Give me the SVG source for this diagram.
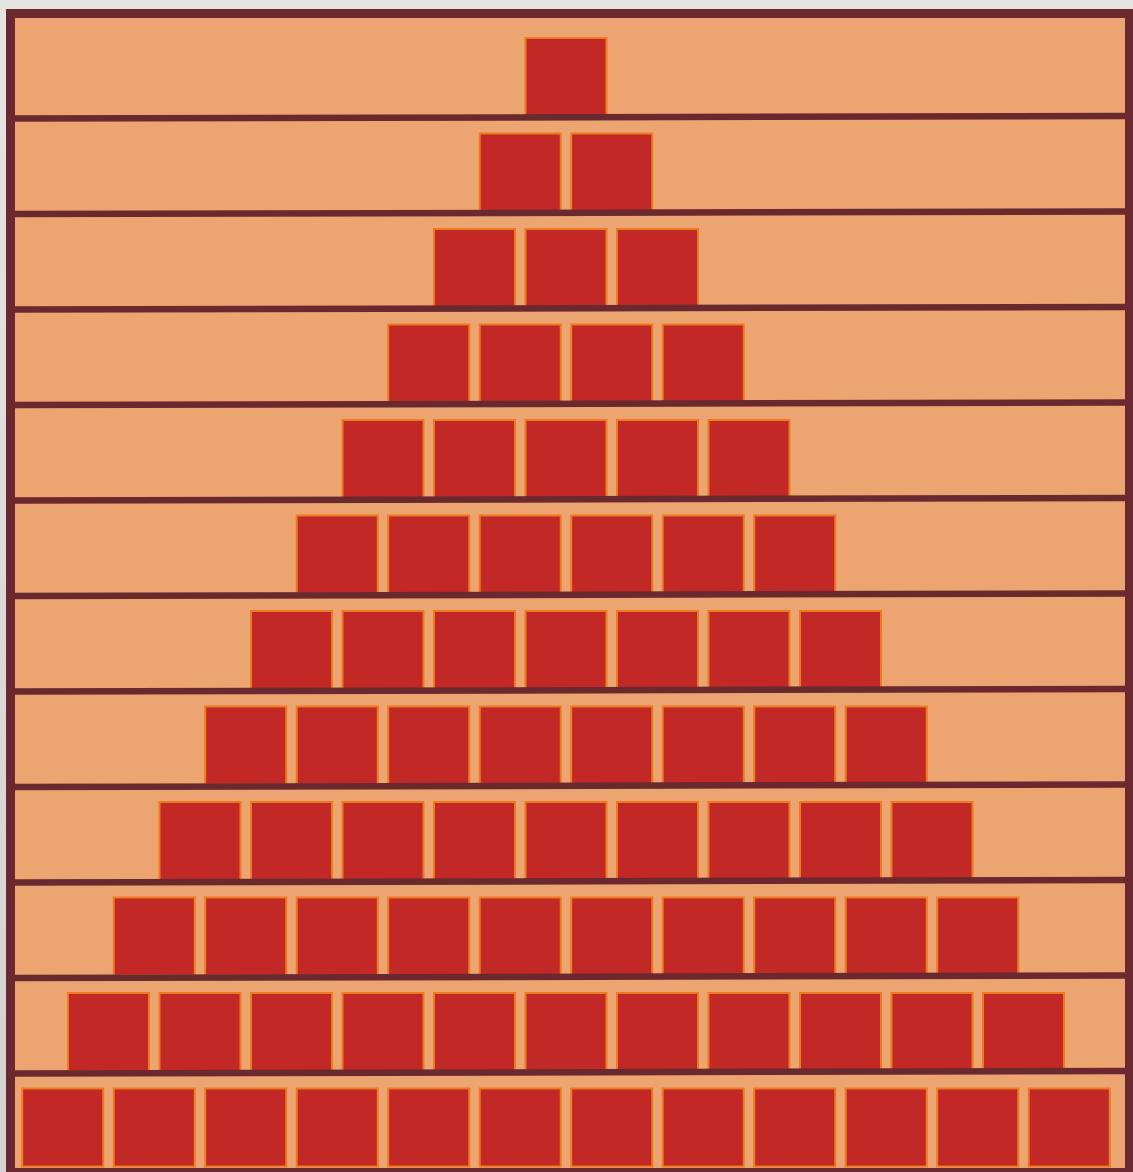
<svg xmlns="http://www.w3.org/2000/svg" width="1133" height="1172" viewBox="0 0 1133 1172">
<style>
.bg{fill:#ECA570}
.sq{fill:#C12826;stroke:#EC7A1F;stroke-width:2}
.ln{stroke:#6A292E;stroke-width:6.5;fill:none}
.bd{stroke:#6A292E;stroke-width:9;fill:none}
</style>
<defs>
<linearGradient id="g" x1="0" y1="0" x2="0" y2="1">
<stop offset="0" stop-color="#E6E4E3"/>
<stop offset="1" stop-color="#D4D2D1"/>
</linearGradient>
<rect id="s" class="sq" width="81" height="78"/>
</defs>
<rect x="0" y="0" width="1133" height="1172" fill="url(#g)"/>
<rect class="bg" x="10" y="13" width="1120" height="1160"/>
<g id="row1"><use href="#s" x="525.5" y="38"/></g>
<g id="row2"><use href="#s" x="479.75" y="133.5"/><use href="#s" x="571.25" y="133.5"/></g>
<g id="row3"><use href="#s" x="434" y="229"/><use href="#s" x="525.5" y="229"/><use href="#s" x="617" y="229"/></g>
<g id="row4"><use href="#s" x="388.25" y="324.5"/><use href="#s" x="479.75" y="324.5"/><use href="#s" x="571.25" y="324.5"/><use href="#s" x="662.75" y="324.5"/></g>
<g id="row5"><use href="#s" x="342.5" y="420"/><use href="#s" x="434" y="420"/><use href="#s" x="525.5" y="420"/><use href="#s" x="617" y="420"/><use href="#s" x="708.5" y="420"/></g>
<g id="row6"><use href="#s" x="296.75" y="515.5"/><use href="#s" x="388.25" y="515.5"/><use href="#s" x="479.75" y="515.5"/><use href="#s" x="571.25" y="515.5"/><use href="#s" x="662.75" y="515.5"/><use href="#s" x="754.25" y="515.5"/></g>
<g id="row7"><use href="#s" x="251" y="611"/><use href="#s" x="342.5" y="611"/><use href="#s" x="434" y="611"/><use href="#s" x="525.5" y="611"/><use href="#s" x="617" y="611"/><use href="#s" x="708.5" y="611"/><use href="#s" x="800" y="611"/></g>
<g id="row8"><use href="#s" x="205.25" y="706.5"/><use href="#s" x="296.75" y="706.5"/><use href="#s" x="388.25" y="706.5"/><use href="#s" x="479.75" y="706.5"/><use href="#s" x="571.25" y="706.5"/><use href="#s" x="662.75" y="706.5"/><use href="#s" x="754.25" y="706.5"/><use href="#s" x="845.75" y="706.5"/></g>
<g id="row9"><use href="#s" x="159.5" y="802"/><use href="#s" x="251" y="802"/><use href="#s" x="342.5" y="802"/><use href="#s" x="434" y="802"/><use href="#s" x="525.5" y="802"/><use href="#s" x="617" y="802"/><use href="#s" x="708.5" y="802"/><use href="#s" x="800" y="802"/><use href="#s" x="891.5" y="802"/></g>
<g id="row10"><use href="#s" x="113.75" y="897.5"/><use href="#s" x="205.25" y="897.5"/><use href="#s" x="296.75" y="897.5"/><use href="#s" x="388.25" y="897.5"/><use href="#s" x="479.75" y="897.5"/><use href="#s" x="571.25" y="897.5"/><use href="#s" x="662.75" y="897.5"/><use href="#s" x="754.25" y="897.5"/><use href="#s" x="845.75" y="897.5"/><use href="#s" x="937.25" y="897.5"/></g>
<g id="row11"><use href="#s" x="68" y="993"/><use href="#s" x="159.5" y="993"/><use href="#s" x="251" y="993"/><use href="#s" x="342.5" y="993"/><use href="#s" x="434" y="993"/><use href="#s" x="525.5" y="993"/><use href="#s" x="617" y="993"/><use href="#s" x="708.5" y="993"/><use href="#s" x="800" y="993"/><use href="#s" x="891.5" y="993"/><use href="#s" x="983" y="993"/></g>
<g id="row12"><use href="#s" x="22.25" y="1088.5"/><use href="#s" x="113.75" y="1088.5"/><use href="#s" x="205.25" y="1088.5"/><use href="#s" x="296.75" y="1088.5"/><use href="#s" x="388.25" y="1088.5"/><use href="#s" x="479.75" y="1088.5"/><use href="#s" x="571.25" y="1088.5"/><use href="#s" x="662.75" y="1088.5"/><use href="#s" x="754.25" y="1088.5"/><use href="#s" x="845.75" y="1088.5"/><use href="#s" x="937.25" y="1088.5"/><use href="#s" x="1028.75" y="1088.5"/></g>
<g id="shelves">
<line class="ln" x1="12" y1="118.5" x2="1128" y2="116"/>
<line class="ln" x1="12" y1="214" x2="1128" y2="211.5"/>
<line class="ln" x1="12" y1="309.5" x2="1128" y2="307"/>
<line class="ln" x1="12" y1="405" x2="1128" y2="402.5"/>
<line class="ln" x1="12" y1="500.5" x2="1128" y2="498"/>
<line class="ln" x1="12" y1="596" x2="1128" y2="593.5"/>
<line class="ln" x1="12" y1="691.5" x2="1128" y2="689"/>
<line class="ln" x1="12" y1="787" x2="1128" y2="784.5"/>
<line class="ln" x1="12" y1="882.5" x2="1128" y2="880"/>
<line class="ln" x1="12" y1="978" x2="1128" y2="975.5"/>
<line class="ln" x1="12" y1="1073.5" x2="1128" y2="1071"/>
</g>
<rect id="frame" class="bd" x="10.5" y="13.5" width="1119" height="1159"/>
</svg>
